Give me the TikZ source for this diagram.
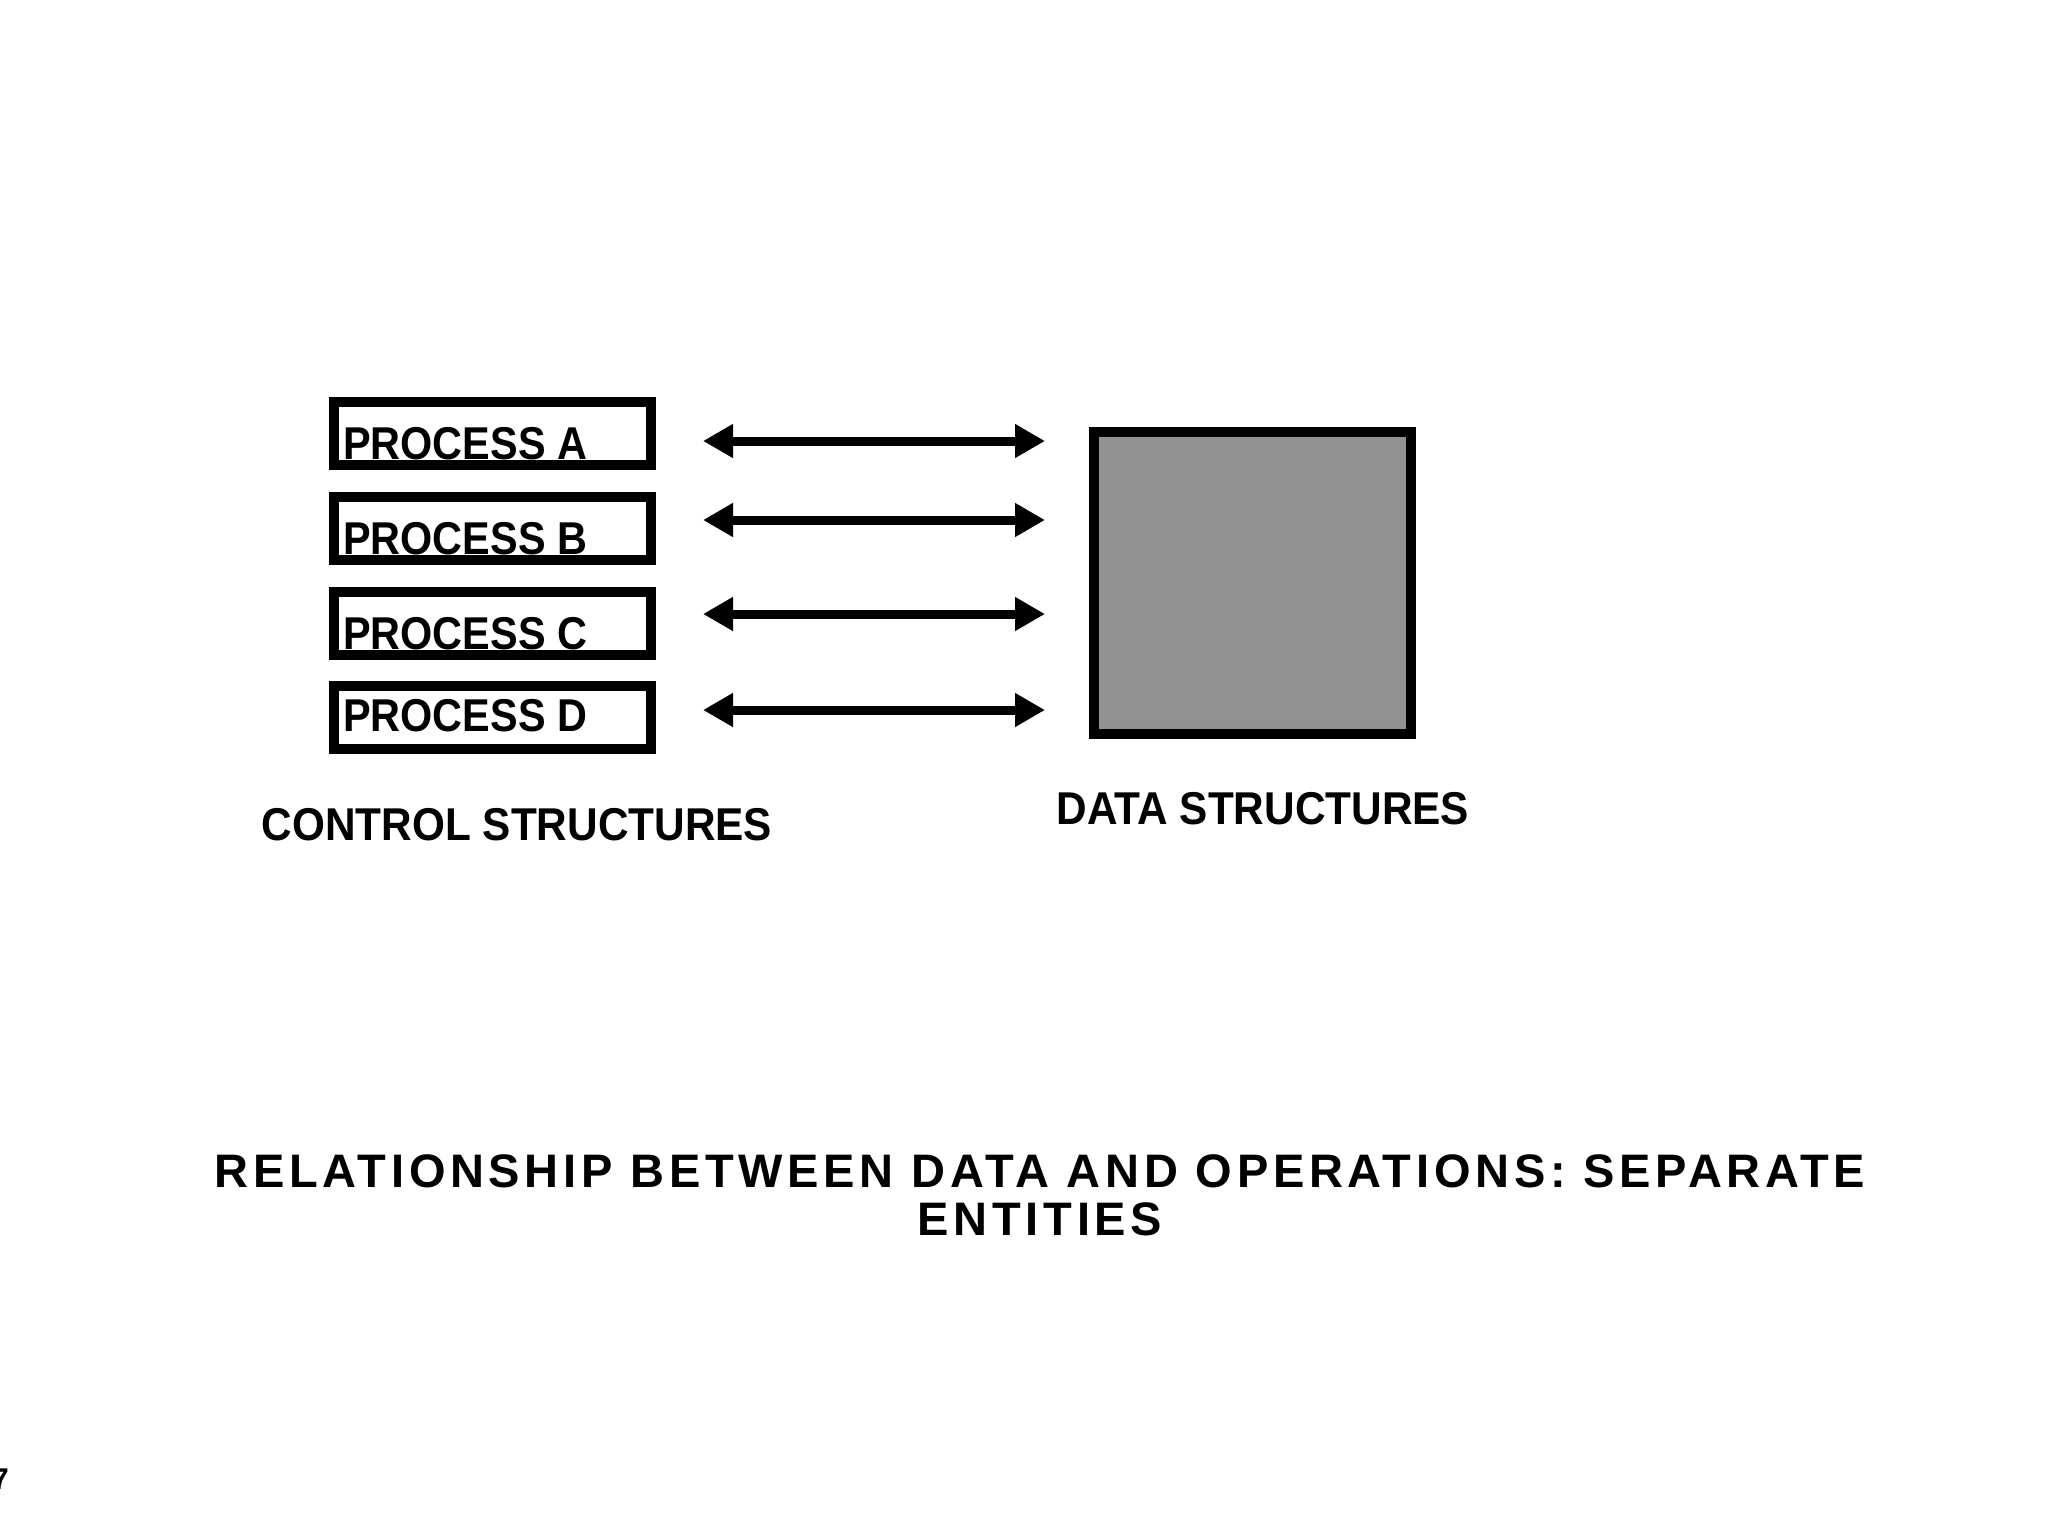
\documentclass[tikz,border=0pt]{standalone}
\usepackage{fontspec}
\setmainfont{Liberation Sans}
\usetikzlibrary{arrows.meta}
\begin{document}
\begin{tikzpicture}[x=1pt,y=-1pt,
  pbox/.style={draw=black,line width=10pt,fill=white,minimum width=317pt,minimum height=63pt,inner sep=0pt},
  plabel/.style={anchor=base west,font=\bfseries\fontsize{46}{46}\selectfont,inner sep=0pt,xscale=0.9},
  arr/.style={line width=9pt,{Triangle[length=30pt,width=32pt]}-{Triangle[length=30pt,width=32pt]}},
  caplabel/.style={anchor=base,font=\bfseries\fontsize{46}{46}\selectfont,inner sep=0pt,xscale=0.92}]
\useasboundingbox (0,0) rectangle (2048,1518);
\fill[white] (0,0) rectangle (2048,1518);
\foreach \n/\y/\t/\ay/\o in {a/433.5/A/441/26,b/528.5/B/520/26,c/623/C/614/26,d/717/D/710/14}{
  \node[pbox] (box\n) at (492.5,\y) {};
  \node[plabel] (lab\n) at (343,\y+\o) {PROCESS \t};
  \coordinate (l\n) at (703,\ay);
  \coordinate (r\n) at (1045,\ay);
  \draw[arr] (l\n) -- (r\n);
}
\node[draw=black,line width=10pt,fill={rgb,255:red,146;green,146;blue,146},minimum width=317pt,minimum height=302pt,inner sep=0pt] (data) at (1252.5,583) {};
\node[caplabel] (ctl) at (517,840) {CONTROL STRUCTURES};
\node[caplabel] (dat) at (1263,824) {DATA STRUCTURES};
\node[anchor=base,align=center,inner sep=0pt,font=\bfseries\fontsize{47}{48}\selectfont\addfontfeature{LetterSpace=10}] (title) at (1040,1235) {RELATIONSHIP BETWEEN DATA AND OPERATIONS: SEPARATE\\ENTITIES};
\node[anchor=base west,inner sep=0pt,font=\bfseries\fontsize{30}{30}\selectfont] (num) at (-8,1489) {7};
\end{tikzpicture}
\end{document}
